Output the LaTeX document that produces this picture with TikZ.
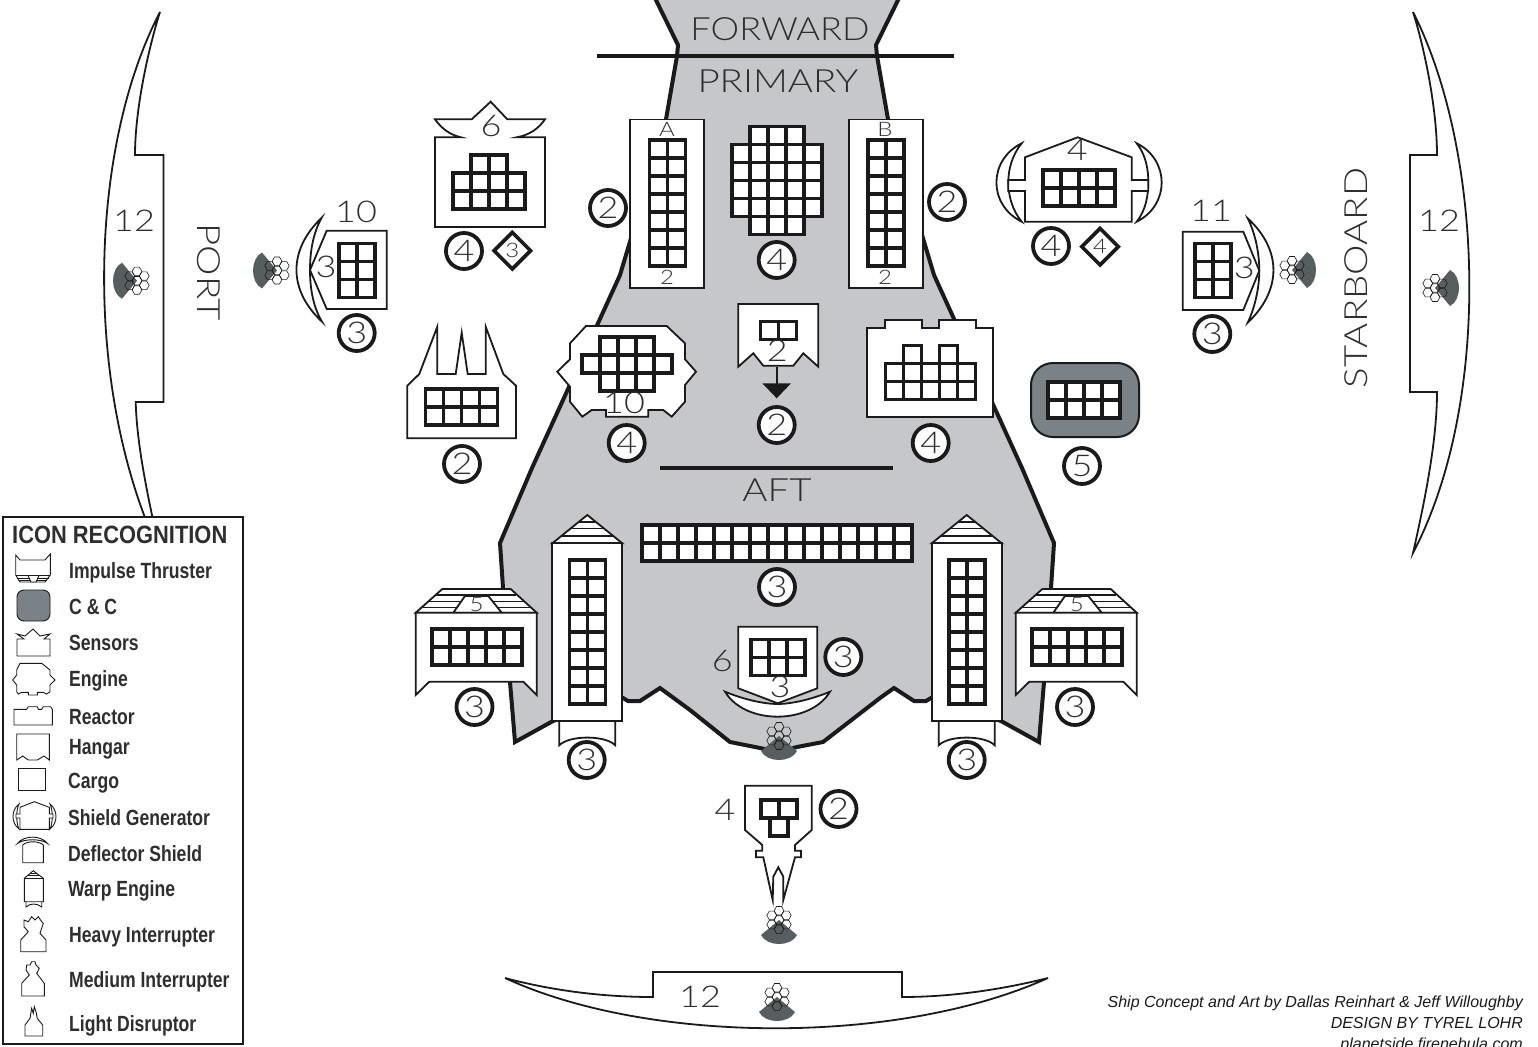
\documentclass[tikz,border=0pt]{standalone}
\usepackage{fontspec}
\usetikzlibrary{shapes.geometric}
\setmainfont{Liberation Sans}
\newfontfamily\labfont{Lato}[UprightFont=* Light,FakeStretch=1.2]
\newfontfamily\fwdfont{Lato}[UprightFont=* Light,FakeStretch=1.13]
\newfontfamily\legfont[FakeStretch=0.8]{Liberation Sans}
\newfontfamily\titlefont[FakeStretch=0.875]{Liberation Sans}
\definecolor{hullgrey}{HTML}{C5C7CA}
\definecolor{darkw}{HTML}{565E60}
\definecolor{ccgrey}{HTML}{7A8288}
\definecolor{ink}{HTML}{1A1A1A}
\definecolor{txt}{HTML}{2E2E2E}
\tikzset{
  bx/.style={draw=ink,fill=white,line width=1.8pt,line join=miter},
  thick line/.style={draw=ink,line width=3.8pt},
  gridc/.style={draw=ink,fill=white,line width=3.6pt,line join=miter},
  badge/.style={circle,draw=ink,fill=white,line width=3.8pt,minimum size=36pt,inner sep=0pt,text=txt,font=\labfont\fontsize{30}{30}\selectfont},
  dia/.style={diamond,aspect=1,draw=ink,fill=white,line width=3.6pt,minimum size=38pt,inner sep=0pt,text=txt,font=\labfont\fontsize{20}{20}\selectfont},
  lab/.style={text=txt,inner sep=0pt,font=\labfont\fontsize{30}{30}\selectfont},
  tiny/.style={text=txt,inner sep=0pt,font=\labfont\fontsize{20}{20}\selectfont},
  big/.style={text=txt,inner sep=0pt,font=\labfont\fontsize{32}{32}\selectfont},
  legi/.style={draw=ink,fill=white,line width=0.9pt},
  legt/.style={text=txt,inner sep=0pt,anchor=base west,font=\legfont\bfseries\fontsize{22}{22}\selectfont},
  cred/.style={text=ink,inner sep=0pt,anchor=base east,font=\itshape\fontsize{16}{16}\selectfont},
  hexl/.style={draw=ink,line width=0.6pt},
}
\newcommand{\gridrect}[4]{\foreach \c in {1,...,#3}{\foreach \r in {1,...,#4}{\draw[gridc] ({#1+18*(\c-1)},{#2+18*(\r-1)}) rectangle ++(18,18);}}}
\newcommand{\cellset}[3]{\foreach \c/\r in {#3}{\draw[gridc] ({#1+18*\c},{#2+18*\r}) rectangle ++(18,18);}}
\newcommand{\hexa}[2]{\draw[hexl] (#1+4.9,#2) -- (#1+2.45,#2+4.24) -- (#1-2.45,#2+4.24) -- (#1-4.9,#2) -- (#1-2.45,#2-4.24) -- (#1+2.45,#2-4.24) -- cycle;}
\newcommand{\weapon}[3]{%
  \begin{scope}[shift={(#1,#2)}]
    \begin{scope}[rotate=#3]
      \fill[darkw] (0,0) -- (18,15) .. controls (12,27) and (-12,27) .. (-18,15) -- cycle;
    \end{scope}
    \hexa{0}{0}\hexa{0}{-9.3}\hexa{0}{9.3}\hexa{-7.3}{-4.65}\hexa{7.3}{-4.65}\hexa{-7.3}{4.65}\hexa{7.3}{4.65}
  \end{scope}}
\newcommand{\warp}[1]{%
  \begin{scope}[shift={(#1,0)}]
    \draw[bx] (-28,720.7) -- (-28,745.3) .. controls (-18,735) and (18,735) .. (28,745.3) -- (28,720.7);
    \draw[bx] (-35,543.3) -- (0,515) -- (35,543.3) -- cycle;
    \draw[draw=ink,line width=1.6pt] (-26,536) -- (26,536) (-17,528.5) -- (17,528.5) (-8,521.7) -- (8,521.7);
    \draw[bx] (-35,543.3) rectangle (35,720.7);
    \gridrect{-18}{560.2}{2}{8}
  \end{scope}}
\newcommand{\impulse}[2]{%
  \begin{scope}[shift={(#1,0)}]
    \draw[bx] (415.7,612.7) -- (442.3,589) -- (510.7,589) -- (536.7,612.7) -- cycle;
    \draw[draw=ink,line width=1.6pt] (436,595) -- (516,595) (429,601.5) -- (524,601.5) (423,607.3) -- (530,607.3);
    \draw[bx] (453.3,612.7) -- (465,596) -- (488.3,596) -- (501.7,612.7) -- cycle;
    \draw[bx] (415.7,612.7) -- (415.7,695) -- (429.3,681.7) -- (523.3,681.7) -- (536.7,695) -- (536.7,612.7) -- cycle;
    \gridrect{431.7}{629}{5}{2}
    \node[tiny] (#2) at (476.7,604) {5};
  \end{scope}}
\begin{document}
\begin{tikzpicture}[x=1pt,y=-1pt]
\useasboundingbox (0,0) rectangle (1538,1046);
% side and bottom arcs
\draw[bx] (160,12) .. controls (88,150) and (83,390) .. (160,553) .. controls (150,505) and (137,450) .. (135.7,402) -- (163.5,402) -- (163.5,155) -- (135,155) .. controls (135,110) and (148,50) .. (160,12) -- cycle;
\draw[bx] (1413,12) .. controls (1483,150) and (1493,400) .. (1413,553) .. controls (1425,500) and (1437,440) .. (1437,392) -- (1410,392) -- (1410,155) -- (1437,155) .. controls (1437,110) and (1425,50) .. (1413,12) -- cycle;
\draw[bx] (505,978) .. controls (650,1045) and (900,1045) .. (1048,978) .. controls (1000,990) and (950,997) .. (902,997) -- (902,972) -- (653,972) -- (653,997) .. controls (600,997) and (550,990) .. (505,978) -- cycle;
% hull
\draw[fill=hullgrey,draw=ink,line width=4pt,line join=miter] (653,-6) -- (678,45) -- (677,56) -- (665,125) -- (620,275) -- (532,468) -- (500,543) -- (503,588) -- (510,682) -- (515,742) -- (553,721) -- (623,698) -- (628,701) -- (640,701) -- (660,688) -- (690,710) -- (730,742) -- (760,748) -- (779,752) -- (797,747) -- (823,742) -- (880,698) -- (894,688) -- (914,701) -- (926,701) -- (931,698) -- (1001,721) -- (1039,742) -- (1044,682) -- (1051,588) -- (1054,543) -- (1022,468) -- (934,275) -- (889,125) -- (877,56) -- (876,45) -- (901,-6) -- cycle;
\draw[thick line] (597,56) -- (954,56);
\draw[thick line] (660,468) -- (893,468);
\node[big,font=\fwdfont\fontsize{32}{32}\selectfont] (forward) at (780,29) {FORWARD};
\node[big] (primary) at (778,81) {PRIMARY};
\node[big] (aft) at (777,490) {AFT};
\node[big,rotate=90] (starboard) at (1356,278) {STARBOARD};
\node[big,rotate=-90] (port) at (209,272) {PORT};
\node[lab] (n12a) at (134,221) {12};
\node[lab] (n12b) at (1439,221) {12};
\node[lab] (n12c) at (700,997) {12};
% weapons
\weapon{137}{280.7}{-90}
\weapon{277}{270.5}{-90}
\weapon{1292}{270}{90}
\weapon{1435}{288}{90}
\weapon{779}{736}{0}
\weapon{779}{920}{0}
\weapon{777}{997}{0}
% box A, B
\draw[bx] (630,119.5) rectangle (704,288);
\gridrect{649.3}{140}{2}{7}
\node[tiny] (lA) at (667,129) {A};
\node[tiny] (l2A) at (667,277) {2};
\draw[bx] (849,119.5) rectangle (922.7,288);
\gridrect{868}{140}{2}{7}
\node[tiny] (lB) at (885,129) {B};
\node[tiny] (l2B) at (885,277) {2};
\cellset{731.7}{126.5}{1/0,2/0,3/0,0/1,1/1,2/1,3/1,4/1,0/2,1/2,2/2,3/2,4/2,0/3,1/3,2/3,3/3,4/3,0/4,1/4,2/4,3/4,4/4,1/5,2/5,3/5}
% sensors
\draw[bx] (461,137.3) .. controls (450,135) and (441,128) .. (435,119.3) -- (471.7,119.3) -- (490.7,101.7) -- (507.3,119.3) -- (545,119.3) .. controls (539,128) and (530,135) .. (516.7,137.3) -- (545,137.3) -- (545,227) -- (435,227) -- (435,137.3) -- cycle;
\cellset{452.8}{154.7}{1/0,2/0,0/1,1/1,2/1,3/1,0/2,1/2,2/2,3/2}
\node[lab] (n6) at (491,126) {6};
% port deflector unit
\draw[bx] (321.7,217.7) .. controls (288,250) and (288,290) .. (322,321.7) .. controls (312,305) and (310,285) .. (310,270) .. controls (310,255) and (312,235) .. (321.7,217.7) -- cycle;
\draw[bx] (386.7,230.7) -- (326.7,230.7) -- (310,270) -- (326.7,309) -- (386.7,309) -- cycle;
\gridrect{339}{243.3}{2}{3}
\node[lab] (n10) at (356,212) {10};
\node[lab] (n3a) at (326,267) {3};
% starboard deflector unit
\draw[bx] (1247.7,218.3) .. controls (1282,250) and (1282,290) .. (1247.7,322.7) .. controls (1256,305) and (1259.3,285) .. (1259.3,270.7) .. controls (1259.3,255) and (1256,235) .. (1247.7,218.3) -- cycle;
\draw[bx] (1182.7,231.7) -- (1243.3,231.7) -- (1259.3,270.7) -- (1243.3,310) -- (1182.7,310) -- cycle;
\gridrect{1195}{243.5}{2}{3}
\node[lab] (n11) at (1211,211) {11};
\node[lab] (n3b) at (1244.3,268) {3};
% shield generator
\draw[bx] (1021.7,143.3) .. controls (988,160) and (988,205) .. (1021.7,221.7) .. controls (1012,210) and (1008.3,195) .. (1008.3,181.7) .. controls (1008.3,170) and (1012,155) .. (1021.7,143.3) -- cycle;
\draw[bx] (1136.7,143.3) .. controls (1170,160) and (1170,205) .. (1136.7,221.7) .. controls (1146,210) and (1148.3,195) .. (1148.3,181.7) .. controls (1148.3,170) and (1146,155) .. (1136.7,143.3) -- cycle;
\draw[bx] (1025,157.3) -- (1077.7,137.3) -- (1131.7,157.3) -- (1131.7,180) -- (1148.3,180) -- (1148.3,191) -- (1131.7,191) -- (1131.7,221.7) -- (1025,221.7) -- (1025,191) -- (1008.3,191) -- (1008.3,180) -- (1025,180) -- cycle;
\gridrect{1042.8}{170}{4}{2}
\node[lab] (n4a) at (1077.3,150) {4};
% light disruptor
\draw[bx] (407.3,438.3) -- (407.3,385.7) -- (419.3,374) -- (437.3,326.7) -- (437.3,374) -- (455.7,374) -- (461.7,332.7) -- (467.7,374) -- (485.7,374) -- (485.7,326.7) -- (503.3,374) -- (516,385.7) -- (516,438.3) -- cycle;
\gridrect{425.3}{389}{4}{2}
% engine
\draw[bx] (570,343.3) -- (586,326) -- (666.7,326) -- (685,343.3) -- (685,359.3) -- (696,371.7) -- (685,385) -- (685,401.7) -- (671.7,416.7) -- (663.3,410) -- (648.3,410) -- (648.3,416.7) -- (606,416.7) -- (606,410) -- (591.7,410) -- (582.3,416.7) -- (570,401.7) -- (570,386.7) -- (557.3,371.7) -- (570,359.3) -- cycle;
\cellset{582}{336.8}{1/0,2/0,3/0,0/1,1/1,2/1,3/1,4/1,1/2,2/2,3/2}
\node[lab] (n10b) at (624,403) {10};
% hangar
\draw[thick line,line width=2pt] (776.7,366.7) -- (776.7,384);
\fill[ink] (762.3,383.3) -- (791,383.3) -- (776.7,398.3) -- cycle;
\draw[bx] (738.3,304) -- (818.3,304) -- (818.3,366.7) -- (803.3,353.3) -- (793.3,365.7) -- (763.3,365.7) -- (753.3,353.3) -- (738.3,366.7) -- cycle;
\gridrect{760.3}{321.5}{2}{1}
\node[lab] (n2h) at (777.3,351) {2};
% reactor
\draw[bx] (866.7,328.3) -- (885,328.3) -- (885,320) -- (921.7,320) -- (921.7,328.3) -- (939.3,328.3) -- (939.3,320) -- (976,320) -- (976,328.3) -- (993.3,328.3) -- (993.3,416.7) -- (866.7,416.7) -- cycle;
\cellset{885.3}{345.5}{1/0,3/0,0/1,1/1,2/1,3/1,4/1,0/2,1/2,2/2,3/2,4/2}
% C and C
\draw[draw=ink,fill=ccgrey,line width=2pt,rounded corners=22pt] (1031,363) rectangle (1139,437);
\gridrect{1048}{382}{4}{2}
% long aft grid
\gridrect{642}{525}{15}{2}
% warp and impulse
\warp{587.3}
\warp{966.7}
\impulse{0}{n5a}
\impulse{600}{n5b}
% aft deflector
\draw[bx] (725,691.7) .. controls (745,725) and (810,725) .. (830,691.7) .. controls (810,700) and (790,704) .. (777.7,704) .. controls (765,704) and (745,700) .. (725,691.7) -- cycle;
\draw[bx] (738.3,626.7) -- (817.3,626.7) -- (817.3,688.3) -- (777.7,703.3) -- (738.3,688.3) -- cycle;
\gridrect{750.8}{639.3}{3}{2}
\node[lab] (n6b) at (722.3,660.7) {6};
\node[lab] (n3c) at (780,687) {3};
% boom
\draw[bx] (745,785.7) -- (811.7,785.7) -- (811.7,830) -- (795,845) -- (795,850.7) -- (801,850.7) -- (801,857.3) -- (795,857.3) -- (783.3,900) -- (783.3,876.7) -- (778.3,867.3) -- (773.3,876.7) -- (772.7,900) -- (763.3,857.3) -- (756,857.3) -- (756,850.7) -- (762.3,850.7) -- (762.3,845) -- (745,830) -- cycle;
\cellset{760.8}{800}{0/0,1/0,0.5/1}
\node[lab] (n4b) at (725,810) {4};
% badges
\node[badge] (b1) at (608,208) {2};
\node[badge] (b2) at (947,202) {2};
\node[badge] (b3) at (776.7,260) {4};
\node[badge] (b4) at (464,251) {4};
\node[badge] (b5) at (1051,246) {4};
\node[badge] (b6) at (356.7,333) {3};
\node[badge] (b7) at (1212.3,334) {3};
\node[badge] (b8) at (462,464) {2};
\node[badge] (b9) at (626.7,443) {4};
\node[badge] (b10) at (776.7,425) {2};
\node[badge] (b11) at (930.7,443) {4};
\node[badge] (b12) at (1082,466) {5};
\node[badge] (b13) at (777,587) {3};
\node[badge] (b14) at (843.3,657) {3};
\node[badge] (b15) at (474.5,707) {3};
\node[badge] (b16) at (1075,707) {3};
\node[badge] (b17) at (586.7,760) {3};
\node[badge] (b18) at (966.7,760) {3};
\node[badge] (b19) at (838.5,809) {2};
\node[dia] (d1) at (512.3,250.7) {3};
\node[dia] (d2) at (1100,246.7) {4};
% legend
\draw[draw=ink,fill=white,line width=2.4pt] (3,517) rectangle (243,1044);
\node[legt,font=\titlefont\bfseries\fontsize{25}{25}\selectfont] (title) at (12,543) {ICON RECOGNITION};
\node[legt] (t1) at (69,578) {Impulse Thruster};
\node[legt] (t2) at (69,614) {C \& C};
\node[legt] (t3) at (69,650) {Sensors};
\node[legt] (t4) at (69,686) {Engine};
\node[legt] (t5) at (69,724) {Reactor};
\node[legt] (t6) at (69,754) {Hangar};
\node[legt] (t7) at (68,788) {Cargo};
\node[legt] (t8) at (68,825) {Shield Generator};
\node[legt] (t9) at (68,861) {Deflector Shield};
\node[legt] (t10) at (68,896) {Warp Engine};
\node[legt] (t11) at (69,942) {Heavy Interrupter};
\node[legt] (t12) at (69,987) {Medium Interrupter};
\node[legt] (t13) at (69,1031) {Light Disruptor};
% legend icons
\draw[legi] (15.7,555) -- (20,560) -- (45,560) -- (50.3,554) -- (50.3,575) -- (45,582) -- (20,582) -- (15.7,575) -- cycle;
\draw[legi] (15.7,575) -- (50.3,575) (17,578) -- (49,578) (19,580) -- (47,580);
\draw[legi] (28,575.5) -- (39,575.5) -- (36,582) -- (31,582) -- cycle;
\draw[draw=ink,fill=ccgrey,line width=0.9pt,rounded corners=7pt] (17,590) rectangle (50,621);
\draw[legi] (25,636) -- (33,629) -- (40,636) -- (50,634) -- (44,639) -- (50,639) -- (50,656) -- (17,656) -- (17,639) -- (24,639) -- (17,634) -- cycle;
\draw[legi] (20,663.3) -- (41.7,663.3) -- (50,670) -- (50,675) -- (55,680) -- (50,685) -- (50,691.7) -- (46.7,694) -- (43.3,692.3) -- (37.3,692.3) -- (37.3,695) -- (28.3,695) -- (28.3,692.3) -- (21.7,692.3) -- (18.3,694) -- (16.7,691.7) -- (16.7,685) -- (12.7,680) -- (16.7,675) -- (16.7,670) -- cycle;
\draw[legi] (14,709.3) -- (26.7,709.3) -- (28.3,706.7) -- (37.3,706.7) -- (38.3,709.3) -- (41.7,709.3) -- (43.3,706.7) -- (50.5,706.7) -- (52.3,709.3) -- (52.3,725) -- (14,725) -- cycle;
\draw[legi] (16.7,734) -- (49.3,734) -- (49.3,760) -- (44,756) -- (37.3,760) -- (28.3,760) -- (22.7,756) -- (16.7,760) -- cycle;
\draw[legi] (18.3,768.3) rectangle (45,790);
\draw[legi] (19,804) .. controls (11,810) and (11,823) .. (19,829) .. controls (16,823) and (16,810) .. (19,804) -- cycle;
\draw[legi] (50,804) .. controls (58,810) and (58,823) .. (50,829) .. controls (53,823) and (53,810) .. (50,804) -- cycle;
\draw[legi] (20,807.3) -- (34.3,801.7) -- (49.3,807.3) -- (49.3,814) -- (53,814) -- (53,818) -- (49.3,818) -- (49.3,829.3) -- (20,829.3) -- (20,818) -- (16,818) -- (16,814) -- (20,814) -- cycle;
\draw[legi] (17.5,843.5) .. controls (24,835) and (41,835) .. (47.5,843.5) .. controls (41,838.5) and (24,838.5) .. (17.5,843.5) -- cycle;
\draw[legi] (22.7,862.7) -- (22.7,845) .. controls (27,840.7) and (39,840.7) .. (43.3,845) -- (43.3,862.7) -- cycle;
\draw[legi] (26,901.7) -- (26,907) .. controls (30,903) and (37,903) .. (41.7,907) -- (41.7,901.7);
\draw[legi] (24.3,878.3) -- (33.3,870.7) -- (43.3,878.3) -- (43.3,901.7) -- (24.3,901.7) -- cycle;
\draw[legi] (24.3,878.3) -- (43.3,878.3) (27,875.5) -- (40,875.5) (29.5,873.3) -- (37,873.3);
\draw[legi] (20.7,951.7) -- (20.7,940) -- (28.3,931.7) -- (24,926.7) -- (24,920) -- (28.3,921.7) -- (31.7,916.7) -- (35,920) -- (38.3,916.7) -- (41.7,921.7) -- (43.3,923.3) -- (40,933.3) -- (46,940) -- (46,951.7) -- cycle;
\draw[legi] (21.7,996) -- (21.7,983.3) -- (29.3,975) -- (26,970) -- (26.7,965) -- (30,965) -- (31.7,961.7) -- (35,961.7) -- (36,965) -- (39.3,968.3) -- (36.7,973.3) -- (44.3,983.3) -- (44.3,996) -- cycle;
\draw[legi] (25,1036) -- (25,1025) -- (30,1018.3) -- (31.7,1008.3) -- (33.3,1013.3) -- (34.3,1006.7) -- (36,1011.7) -- (37.3,1018.3) -- (42.7,1025) -- (42.7,1036) -- cycle;
% credits
\node[cred] (c1) at (1523,1007) {Ship Concept and Art by Dallas Reinhart \& Jeff Willoughby};
\node[cred] (c2) at (1523,1028) {DESIGN BY TYREL LOHR};
\node[cred] (c3) at (1523,1049) {planetside.firenebula.com};
\end{tikzpicture}
\end{document}
